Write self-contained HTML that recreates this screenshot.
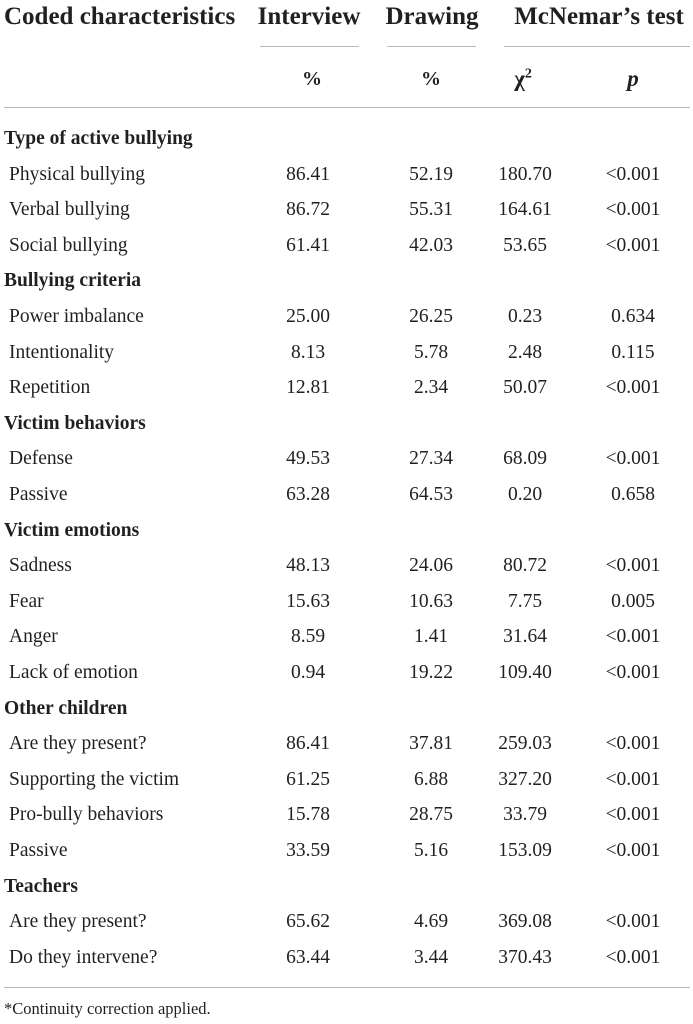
<!DOCTYPE html>
<html><head><meta charset="utf-8"><style>
body{margin:0;background:#fff;width:693px;height:1024px;position:relative;overflow:hidden;font-family:"Liberation Serif",serif;color:#231f20}
.t{position:absolute;white-space:nowrap;line-height:1}
.h{font-weight:bold;font-size:25px}
.c{transform:translateX(-50%)}
.cat{font-weight:bold;font-size:19.5px}
.r{font-size:19.5px}
.ln{position:absolute;height:1px;background:#b8b8b8}
</style></head><body>
<div id="tbl">
<div class="t h" style="left:4px;top:4px">Coded characteristics</div>
<div class="t h c" style="left:309px;top:4px">Interview</div>
<div class="t h c" style="left:432px;top:4px">Drawing</div>
<div class="t h c" style="left:599px;top:4px">McNemar’s test</div>
<div class="ln" style="left:260px;width:99px;top:46px"></div>
<div class="ln" style="left:387px;width:89px;top:46px"></div>
<div class="ln" style="left:504px;width:186px;top:46px"></div>
<div class="t h c" style="left:312px;top:69px;font-size:20px">%</div>
<div class="t h c" style="left:431px;top:69px;font-size:20px">%</div>
<div class="t h c" style="left:523px;top:67px;font-size:23px">χ<sup style="font-size:14px">2</sup></div>
<div class="t h c" style="left:633px;top:67px;font-size:23px;font-style:italic">p</div>
<div class="ln" style="left:4px;width:686px;top:107px"></div>
<div class="ln" style="left:4px;width:686px;top:987px"></div>
<div class="t r" style="left:4px;top:1001px;font-size:16.5px">*Continuity correction applied.</div>
</div>
<script>
const labels=["Type of active bullying","Physical bullying","Verbal bullying","Social bullying","Bullying criteria","Power imbalance","Intentionality","Repetition","Victim behaviors","Defense","Passive","Victim emotions","Sadness","Fear","Anger","Lack of emotion","Other children","Are they present?","Supporting the victim","Pro-bully behaviors","Passive","Teachers","Are they present?","Do they intervene?"];
const interview=["","86.41","86.72","61.41","","25.00","8.13","12.81","","49.53","63.28","","48.13","15.63","8.59","0.94","","86.41","61.25","15.78","33.59","","65.62","63.44"];
const drawing=["","52.19","55.31","42.03","","26.25","5.78","2.34","","27.34","64.53","","24.06","10.63","1.41","19.22","","37.81","6.88","28.75","5.16","","4.69","3.44"];
const chi=["","180.70","164.61","53.65","","0.23","2.48","50.07","","68.09","0.20","","80.72","7.75","31.64","109.40","","259.03","327.20","33.79","153.09","","369.08","370.43"];
const pval=["","<0.001","<0.001","<0.001","","0.634","0.115","<0.001","","<0.001","0.658","","<0.001","0.005","<0.001","<0.001","","<0.001","<0.001","<0.001","<0.001","","<0.001","<0.001"];
const tbl=document.getElementById('tbl');
function add(txt,cls,left,top,name){
  const d=document.createElement('div');
  d.className='t '+cls;d.textContent=txt;d.style.left=left+'px';d.style.top=top+'px';
  
  
  tbl.appendChild(d);
}
labels.forEach((l,i)=>{
  const y=139+i*35.6-10;
  const isCat=interview[i]==="";
  add(l,isCat?'cat':'r',isCat?4:9,y,isCat?'category-label':'row-label');
  if(!isCat){
    add(interview[i],'r c',308,y,'interview-value');
    add(drawing[i],'r c',431,y,'drawing-value');
    add(chi[i],'r c',525,y,'chi-square-value');
    add(pval[i],'r c',633,y,'p-value');
  }
});
</script>
</body></html>
